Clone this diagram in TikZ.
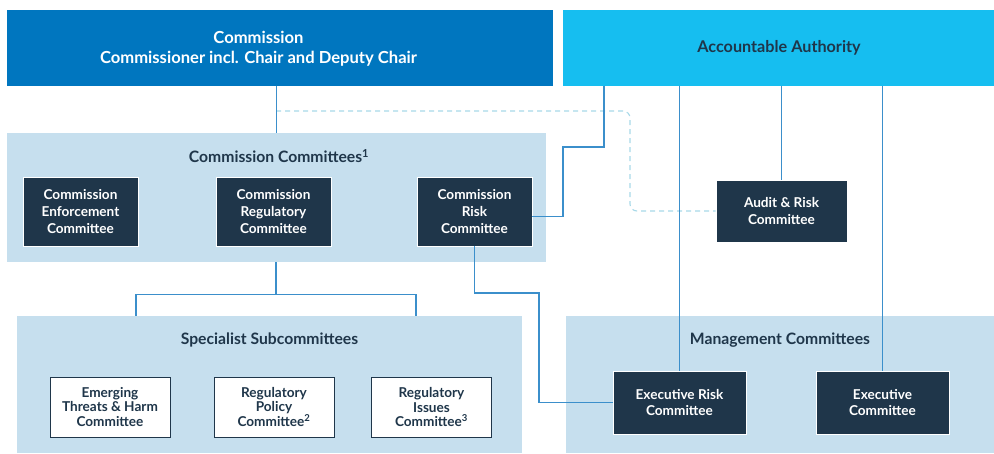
\documentclass[tikz,border=0pt]{standalone}
\usepackage{fontspec}
\setmainfont{Lato}
\definecolor{commblue}{HTML}{0076BF}
\definecolor{aablue}{HTML}{16BEF0}
\definecolor{panelblue}{HTML}{C6DFEE}
\definecolor{navy}{HTML}{1F364A}
\definecolor{linkblue}{HTML}{3B8FCB}
\definecolor{dashblue}{HTML}{A8D9E8}

\begin{document}
\begin{tikzpicture}[x=1pt,y=-1pt,
  topbox/.style={fill=#1, minimum height=76pt, inner sep=0pt},
  panel/.style={fill=panelblue, inner sep=0pt},
  title/.style={text=navy, font=\bfseries\fontsize{15.7}{18}\selectfont},
  darkbox/.style={fill=navy, draw=white, line width=0.8pt, text=white, align=center, inner sep=0pt, font=\bfseries\fontsize{13.6}{16.8}\selectfont},
  whitebox/.style={fill=white, draw=navy, line width=1pt, text=navy, align=center, inner sep=0pt, minimum width=120pt, minimum height=60pt, font=\bfseries\fontsize{13.6}{14.3}\selectfont},
  link/.style={draw=linkblue, line width=1.2pt},
  dashlink/.style={draw=dashblue, line width=1.1pt, dash pattern=on 5pt off 4pt, rounded corners=7pt}]
\useasboundingbox (0,0) rectangle (994,453);

% top row
\node[topbox=commblue, minimum width=546pt] (comm) at (280,47.5) {};
\node[text=white, align=center, font=\bfseries\fontsize{16.6}{20}\selectfont] (commtxt) at (258.5,48.5) {Commission\\Commissioner incl. Chair and Deputy Chair};
\node[topbox=aablue, minimum width=432pt, text=navy, font=\bfseries\fontsize{16.2}{20}\selectfont] (aa) at (779,47.5) {Accountable Authority};

% commission committees
\node[panel, minimum width=539pt, minimum height=129pt] (cc) at (276.5,197.5) {};
\node[title] (cctitle) at (279,156) {Commission Committees\textsuperscript{1}};
\node[darkbox, minimum width=115pt, minimum height=69pt] (cenf) at (80.5,211.5) {Commission\\Enforcement\\Committee};
\node[darkbox, minimum width=115pt, minimum height=69pt] (creg) at (273.5,211.5) {Commission\\Regulatory\\Committee};
\node[darkbox, minimum width=115pt, minimum height=69pt] (crisk) at (474.5,211.5) {Commission\\Risk\\Committee};

\node[darkbox, minimum width=131pt, minimum height=62pt] (audit) at (781.5,211) {Audit \& Risk\\Committee};

% subcommittees
\node[panel, minimum width=505pt, minimum height=137pt] (sub) at (269.5,384.5) {};
\node[title] (subtitle) at (269.5,340) {Specialist Subcommittees};
\node[whitebox] (threats) at (110,407) {Emerging\\Threats \& Harm\\Committee};
\node[whitebox] (policy) at (274,407) {Regulatory\\Policy\\Committee\textsuperscript{2}};
\node[whitebox] (issues) at (431.5,407) {Regulatory\\Issues\\Committee\textsuperscript{3}};

% management committees
\node[panel, minimum width=428pt, minimum height=137pt] (mgmt) at (780,384.5) {};
\node[title] (mgmttitle) at (780,340) {Management Committees};
\node[darkbox, minimum width=133pt, minimum height=63pt] (erisk) at (679.5,402.5) {Executive Risk\\Committee};
\node[darkbox, minimum width=133pt, minimum height=63pt] (exec) at (882.5,402.5) {Executive\\Committee};

% reporting lines
\coordinate (dstart) at (276,111);
\draw[dashlink] (dstart) -- (630,111) |- (audit.west);
\draw[link] (comm.south -| cc.north) -- (cc.north);
\draw[link] (aa.south -| 604,0) |- (563,147) |- ([yshift=-5pt]crisk.east);
\draw[link] (aa.south -| erisk.north) -- (erisk.north);
\draw[link] (aa.south -| audit.north) -- (audit.north);
\draw[link] (aa.south -| exec.north) -- (exec.north);
\draw[link] (cc.south -| 276,0) -- ++(0,32) coordinate (fork);
\draw[link] (sub.north -| 136,0) |- (fork) -| (sub.north -| 416,0);
\draw[link] (crisk.south) |- (539,293) |- (erisk.west);

\end{tikzpicture}
\end{document}
